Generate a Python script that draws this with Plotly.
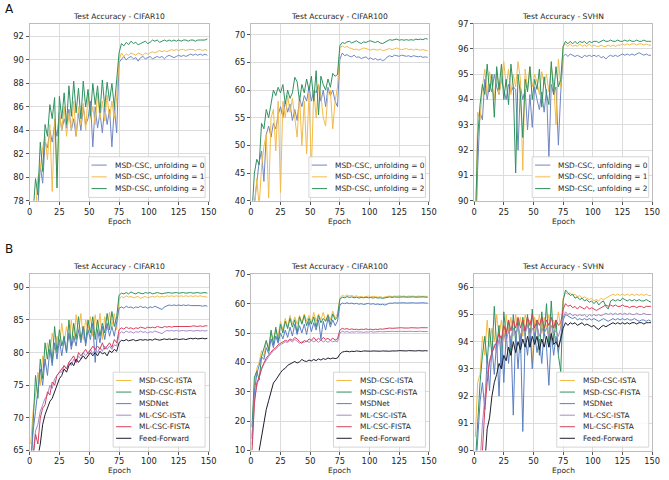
import plotly.graph_objects as go

W, H = 669, 480

# ---------------- data ----------------
epochs = list(range(1, 150, 2))

unfold_names = ["MSD-CSC, unfolding = 0", "MSD-CSC, unfolding = 1", "MSD-CSC, unfolding = 2"]
method_names = ["MSD-CSC-ISTA", "MSD-CSC-FISTA", "MSDNet", "ML-CSC-ISTA", "ML-CSC-FISTA", "Feed-Forward"]

# Panel A - CIFAR10
a_c10_u0 = [74, 75, 76, 77.5, 81, 79.5, 83, 82.5, 84, 83,
            84.5, 83.5, 85.5, 84, 85, 84.2, 85.8, 84, 85, 83.5,
            85.5, 84, 86, 84.5, 85, 86.5, 82.6, 86, 84.2, 85.5,
            83.8, 86, 84.5, 85.8, 82.6, 86, 83.8, 89.8, 90.1, 90.3,
            90.0, 90.2, 90.3, 90.1, 90.2, 89.9, 90.2, 90.3, 90.1, 90.2,
            90.3, 90.1, 90.2, 90.3, 90.2, 90.3, 90.1, 90.3, 90.4, 90.3,
            90.2, 90.3, 90.4, 90.3, 90.4, 90.3, 90.4, 90.5, 90.4, 90.5,
            90.4, 90.5, 90.4, 90.5, 90.4]
a_c10_u1 = [75, 76, 77, 80, 80.8, 82.5, 83.5, 81.5, 84.5, 78.8,
            85, 80, 85.5, 84, 86, 83.5, 85.5, 84, 86.5, 83.5,
            86, 84.5, 86.3, 84, 87, 85, 86, 84.5, 87.2, 85,
            86.5, 84.8, 87, 85, 86.5, 85, 86.8, 90, 90.6, 90.3,
            90.5, 90.4, 90.6, 90.5, 90.4, 90.6, 90.5, 90.4, 90.6, 90.5,
            90.6, 90.7, 90.6, 90.7, 90.8, 90.7, 90.8, 90.7, 90.8, 90.9,
            90.8, 90.9, 90.8, 90.9, 90.9, 90.8, 90.9, 90.9, 90.9, 90.8,
            90.9, 90.9, 90.8, 90.9, 90.8]
a_c10_u2 = [76, 77, 79.9, 78.5, 83, 80.5, 84.5, 83.5, 86.2, 85,
            86.8, 79.1, 86.9, 85, 87.2, 84.5, 87.8, 85.2, 88.2, 85.5,
            87.6, 85, 88.2, 86, 87.5, 85.2, 88, 86.2, 87.8, 85.5,
            88.3, 86, 88.1, 86.5, 88, 86, 88.3, 90.6, 91.4, 91.2,
            91.5, 91.3, 91.6, 91.4, 91.5, 91.3, 91.4, 91.5, 91.6, 91.4,
            91.5, 91.7, 91.6, 91.7, 91.5, 91.6, 91.7, 91.6, 91.7, 91.6,
            91.7, 91.6, 91.7, 91.6, 91.7, 91.7, 91.6, 91.7, 91.7, 91.6,
            91.7, 91.7, 91.7, 91.7, 91.8]

# Panel A - CIFAR100
a_c100_u0 = [36, 40, 44, 47, 49, 43.5, 52, 53.5, 51.5, 54,
             53, 55.5, 57, 55, 58, 56, 57.5, 54.5, 56.5, 54.5,
             58.5, 57, 59, 58, 60.5, 58, 60, 59.5, 61, 58,
             60, 57, 60.5, 59, 60, 58, 57, 65.5, 66.7, 66.2,
             66.4, 66.1, 66.0, 66.3, 65.9, 66.0, 65.7, 65.9, 66.0, 65.6,
             65.8, 65.5, 65.7, 65.4, 65.6, 65.3, 65.5, 66.0, 66.2, 66.0,
             66.3, 66.2, 66.1, 66.3, 66.2, 66.1, 66.2, 66.0, 66.2, 66.1,
             66.0, 66.1, 65.9, 66.0, 65.9]
a_c100_u1 = [36, 38, 44, 39, 46, 49.8, 52, 40.5, 55, 56.5,
             49, 58, 41.5, 58, 55, 59, 56, 58.5, 55, 51.5,
             59, 50, 58, 48.5, 59.5, 45.5, 60, 55, 61, 59,
             55, 53.5, 59.5, 60, 53, 58, 60.5, 67.5, 68, 67.7,
             67.9, 67.6, 67.5, 67.3, 67.4, 67.2, 67.4, 67.6, 67.5, 67.3,
             67.2, 67.4, 67.3, 67.2, 67.4, 67.1, 67.2, 67.4, 67.5, 67.3,
             67.4, 67.6, 67.4, 67.3, 67.4, 67.5, 67.3, 67.4, 67.2, 67.4,
             67.3, 67.2, 67.3, 67.2, 67.1]
a_c100_u2 = [38, 45, 47.5, 46.5, 54, 53, 56.5, 55, 57.5, 60,
             59, 60.5, 59.5, 61, 57.5, 60, 58.5, 59.5, 62.3, 61.5,
             58, 61, 59.5, 62, 60, 62.5, 58, 63.5, 55.5, 62.5,
             61, 60, 62, 60.5, 63, 62.5, 62.8, 68, 68.6, 68.4,
             68.7, 68.8, 68.5, 68.7, 68.9, 68.6, 68.4, 68.7, 68.6, 68.8,
             68.9, 68.7, 68.6, 68.8, 68.5, 68.4, 68.6, 68.9, 69.1, 69.0,
             69.1, 69.2, 69.0, 69.1, 69.0, 69.1, 69.0, 69.1, 69.0, 69.2,
             69.1, 69.2, 69.1, 69.3, 69.2]

# Panel A - SVHN
a_svhn_u0 = [88, 91.3, 93.5, 93.2, 94.8, 94, 94.6, 94.3, 95, 94.5,
             94.2, 94.8, 94.4, 94, 94.6, 94.3, 94.5, 94.4, 92, 94.5,
             94, 94.4, 92.8, 94.2, 92.9, 94.5, 94, 93.6, 94.3, 93.5,
             94.4, 91.7, 94.6, 94.2, 94.5, 92.2, 94.3, 95.7, 95.8, 95.7,
             95.8, 95.75, 95.7, 95.75, 95.7, 95.65, 95.75, 95.7, 95.75, 95.7,
             95.75, 95.7, 95.75, 95.65, 95.7, 95.6, 95.7, 95.75, 95.7, 95.75,
             95.7, 95.75, 95.8, 95.75, 95.8, 95.75, 95.8, 95.75, 95.8, 95.85,
             95.8, 95.75, 95.8, 95.75, 95.75]
a_svhn_u1 = [88, 93.5, 93.2, 94.5, 95.2, 94.2, 95.1, 94.5, 94, 95.2,
             94.2, 94.8, 95.5, 94.5, 95.2, 94.2, 95, 94.5, 95.5, 94.8,
             91.2, 95.2, 94.4, 95.3, 94.5, 95, 94.7, 94.2, 95.1, 94.6,
             95, 94.3, 95.3, 94.7, 93, 95.6, 94.5, 96.1, 96.2, 96.1,
             96.2, 96.1, 96.15, 96.1, 96.2, 96.1, 96.15, 96.1, 96.2, 96.1,
             96.15, 96.1, 96.1, 96.15, 96.1, 96.1, 96.15, 96.1, 96.15, 96.1,
             96.15, 96.15, 96.2, 96.15, 96.2, 96.15, 96.2, 96.2, 96.15, 96.2,
             96.2, 96.15, 96.2, 96.15, 96.15]
a_svhn_u2 = [89, 92.5, 93.8, 94.6, 94.2, 95.4, 94.3, 95, 93.3, 95.3,
             94.4, 95.4, 94, 94.8, 93.8, 95.4, 94.5, 91.1, 95, 94.2,
             92.5, 94.8, 94.3, 95.3, 94, 94.8, 94.4, 95.2, 93.7, 94.9,
             94.2, 93.8, 95.5, 94.2, 95.3, 94.5, 94.8, 96.1, 96.3, 96.2,
             96.3, 96.2, 96.3, 96.2, 96.3, 96.25, 96.3, 96.2, 96.3, 96.25,
             96.3, 96.3, 96.25, 96.3, 96.35, 96.3, 96.3, 96.35, 96.3, 96.3,
             96.35, 96.3, 96.3, 96.35, 96.3, 96.35, 96.3, 96.3, 96.35, 96.3,
             96.3, 96.35, 96.3, 96.3, 96.3]

# Panel B - CIFAR10
b_c10_ista = [66, 71, 73.5, 77, 75, 79.5, 78, 81.5, 80, 83,
              80.5, 82.5, 81, 84.5, 81.5, 84, 82, 85, 81.5, 85.8,
              83, 86, 82, 85, 83.5, 85.5, 82.5, 85.8, 83, 86,
              82, 85.5, 83.5, 86.2, 84, 86, 83.5, 88.2, 88.6, 88.4,
              88.7, 88.5, 88.6, 88.4, 88.5, 88.6, 88.3, 88.5, 88.6, 88.4,
              88.5, 88.6, 88.5, 88.7, 88.5, 88.6, 88.5, 88.7, 88.6, 88.7,
              88.6, 88.7, 88.6, 88.7, 88.6, 88.7, 88.6, 88.7, 88.6, 88.7,
              88.6, 88.7, 88.6, 88.6, 88.5]
b_c10_fista = [62, 70, 76.5, 73, 79, 76, 81.5, 79, 82, 78.5,
               84, 80, 83.5, 81, 82.5, 80, 85, 81, 84.5, 82,
               85.5, 82, 84, 81.5, 85, 83, 85.5, 82, 85, 82.5,
               84.5, 83, 86, 83.5, 86.3, 84, 85.5, 88.8, 89.1, 89.0,
               89.2, 89.0, 89.3, 89.1, 89.0, 89.2, 89.1, 89.0, 89.2, 89.1,
               89.2, 89.0, 89.1, 89.2, 89.1, 89.0, 89.1, 89.2, 89.2, 89.1,
               89.2, 89.2, 89.1, 89.2, 89.2, 89.1, 89.2, 89.2, 89.1, 89.2,
               89.2, 89.1, 89.2, 89.2, 89.1]
b_c10_msdnet = [63, 68, 71, 74, 77.5, 75, 79, 76.5, 80.5, 78,
                81.5, 79, 82, 79.5, 82, 80, 83, 80.5, 82.5, 81,
                83.5, 81.5, 84, 81, 83.5, 82, 84.5, 78.5, 83.5, 81.5,
                84, 82, 84.5, 82.5, 84, 82.5, 84.5, 86.8, 87.0, 86.8,
                87.1, 86.9, 87.0, 86.8, 87.0, 86.9, 87.1, 86.9, 87.0, 86.8,
                87.0, 86.9, 87.1, 86.9, 86.8, 86.6, 87.0, 87.2, 87.3, 87.2,
                87.3, 87.2, 87.3, 87.2, 87.3, 87.2, 87.3, 87.2, 87.2, 87.3,
                87.2, 87.2, 87.1, 87.2, 87.1]
b_c10_mlista = [61, 65, 68, 69, 71, 72, 73, 73.5, 75, 74.5,
                76, 76.5, 77, 77, 78, 77.5, 78.5, 78, 79, 78.5,
                79.5, 79, 80, 79.5, 80, 80.5, 79.8, 80.5, 80, 80.8,
                80.2, 81, 80.5, 81, 80.5, 81.2, 81, 82.8, 83.2, 83.0,
                83.3, 83.1, 83.2, 83.0, 83.2, 83.1, 83.3, 83.1, 83.2, 83.0,
                83.2, 83.1, 83.3, 83.2, 83.0, 82.9, 83.2, 83.4, 83.3, 83.4,
                83.3, 83.4, 83.3, 83.4, 83.4, 83.3, 83.4, 83.4, 83.3, 83.4,
                83.4, 83.3, 83.4, 83.3, 83.4]
b_c10_mlfista = [60, 64, 67.5, 66, 70, 71.5, 72, 74, 73.5, 75.5,
                 75, 76.5, 77, 77.5, 78, 77.5, 78.5, 79, 79.5, 78.5,
                 80, 79.5, 80, 80.5, 79.8, 80.5, 81, 80.5, 81, 80.5,
                 81.5, 80.5, 81, 81.5, 80.8, 82, 81.5, 83.5, 83.8, 83.6,
                 83.9, 83.7, 83.8, 83.6, 83.8, 83.7, 83.9, 83.8, 83.7, 83.9,
                 83.8, 83.9, 83.8, 84.0, 83.9, 83.8, 84.0, 83.9, 84.0, 83.9,
                 84.0, 84.0, 83.9, 84.0, 84.0, 83.9, 84.0, 84.0, 84.1, 84.0,
                 84.0, 84.1, 84.0, 84.1, 84.1]
b_c10_ff = [55, 60, 63, 64, 66, 69, 70.5, 71.5, 72.5, 73,
            74, 75, 76, 76.5, 77.5, 77, 78, 78.5, 78, 79,
            78.5, 79, 79.5, 79, 79.5, 80, 79.5, 80, 79.5, 80.2,
            79.8, 80, 79.5, 80.3, 80, 80.5, 80.2, 81.5, 81.9, 81.8,
            82.0, 81.8, 81.9, 82.0, 81.8, 81.9, 82.0, 81.9, 82.0, 81.9,
            82.0, 81.9, 82.1, 82.0, 81.9, 82.0, 82.1, 82.0, 82.1, 82.0,
            82.1, 82.1, 82.0, 82.1, 82.1, 82.0, 82.1, 82.2, 82.1, 82.2,
            82.1, 82.2, 82.2, 82.1, 82.2]

# Panel B - CIFAR100
b_c100_ista = [15, 32, 38, 40, 44, 42, 47, 45, 50, 48,
               51, 49, 54, 51, 55, 52, 56, 53, 55.5, 53,
               56, 53.5, 56.5, 54, 56, 53.5, 57, 54, 56.5, 54.5,
               57, 54, 56.5, 54.5, 57.5, 55, 56.5, 62, 62.8, 62.5,
               63, 62.6, 62.8, 62.4, 62.7, 62.3, 62.5, 62.2, 62.4, 62.6,
               62.3, 62.5, 62.4, 62.2, 62.4, 62.1, 62.3, 62.5, 62.6, 62.4,
               62.6, 62.5, 62.7, 62.5, 62.6, 62.4, 62.6, 62.5, 62.6, 62.4,
               62.6, 62.5, 62.6, 62.5, 62.5]
b_c100_fista = [18, 35, 37, 34, 42, 45, 47.5, 44, 51, 46,
                52, 47, 53, 50, 54, 51.5, 55, 52, 54.5, 50,
                55.5, 53, 56, 52.5, 55, 53, 55.5, 52, 56, 53.5,
                55, 54, 56, 53, 56.5, 54.5, 55.5, 61.5, 62.2, 62.0,
                62.4, 62.1, 62.3, 62.0, 62.2, 61.9, 62.1, 62.0, 62.2, 62.0,
                62.1, 61.9, 62.1, 61.9, 62.0, 61.8, 62.0, 62.2, 62.3, 62.1,
                62.3, 62.2, 62.3, 62.2, 62.3, 62.2, 62.3, 62.2, 62.3, 62.2,
                62.3, 62.2, 62.3, 62.2, 62.2]
b_c100_msdnet = [14, 30, 36, 39, 42, 41, 45, 43, 48, 45,
                 49, 46.5, 50, 48, 51, 48.5, 52, 49, 53, 49.5,
                 52.5, 50, 53, 49.5, 54, 50.5, 53.5, 51, 54.5, 48,
                 54, 51, 55, 52, 54.5, 52.5, 54, 59.5, 60.2, 60.0,
                 60.3, 60.0, 60.2, 59.9, 60.1, 59.8, 60.0, 59.7, 59.9, 60.1,
                 59.8, 60.0, 59.7, 59.9, 59.6, 59.8, 59.5, 60.0, 60.2, 60.1,
                 60.3, 60.2, 60.3, 60.2, 60.3, 60.2, 60.3, 60.2, 60.3, 60.2,
                 60.3, 60.2, 60.3, 60.2, 60.2]
b_c100_mlista = [12, 27, 32, 35, 37.5, 39.5, 41, 42, 43, 44,
                 44.5, 45.5, 46, 46.5, 47, 46.8, 47.5, 47, 47.8, 47.2,
                 46.5, 47, 46.8, 47.3, 46.8, 47.5, 47, 47.5, 46.8, 47.6,
                 47, 47.4, 46.8, 47.5, 47, 47.3, 47, 50, 50.6, 50.3,
                 50.5, 50.2, 50.4, 50.3, 50.5, 50.3, 50.4, 50.2, 50.4, 50.3,
                 50.5, 50.3, 50.4, 50.3, 50.5, 50.4, 50.5, 50.6, 50.5, 50.6,
                 50.5, 50.6, 50.5, 50.6, 50.5, 50.6, 50.5, 50.6, 50.5, 50.6,
                 50.5, 50.6, 50.5, 50.6, 50.5]
b_c100_mlfista = [10, 26, 33, 35, 38, 40, 41.5, 42.5, 43.5, 44.5,
                  45, 46, 46.5, 47, 47.5, 47.2, 48, 47.5, 48.5, 48,
                  47, 46.5, 47.5, 47, 48, 47.5, 48.5, 47.5, 48.2, 47.5,
                  48.5, 47.8, 48.2, 47.5, 48.3, 47.6, 48, 51, 51.6, 51.3,
                  51.5, 51.2, 51.4, 51.2, 51.3, 51.1, 51.3, 51.2, 51.4, 51.2,
                  51.3, 51.1, 51.3, 51.2, 51.4, 51.3, 51.5, 51.6, 51.7, 51.6,
                  51.7, 51.6, 51.7, 51.8, 51.7, 51.6, 51.7, 51.8, 51.7, 51.6,
                  51.7, 51.8, 51.7, 51.8, 51.8]
b_c100_ff = [2, 5, 7, 10, 15, 20, 24, 27, 30.5, 33,
             34, 35.5, 36.5, 37.5, 38, 39, 39.5, 40, 40.3, 39.8,
             40.2, 41, 40.5, 40.3, 40.8, 40.5, 41, 40.6, 41.2, 40.8,
             41.3, 41, 41.5, 41.2, 41.5, 41.3, 41.5, 42.8, 43.5, 43.7,
             43.8, 43.6, 43.8, 43.7, 43.9, 43.8, 43.7, 43.9, 43.8, 43.7,
             43.8, 43.9, 43.8, 43.7, 43.8, 43.9, 43.8, 43.9, 43.8, 43.9,
             43.8, 43.9, 44.0, 43.9, 43.8, 43.9, 44.0, 43.9, 43.8, 43.9,
             44.0, 43.9, 43.9, 44.0, 43.9]

# Panel B - SVHN
b_svhn_ista = [90.5, 92.5, 92.8, 94.2, 93.5, 94.8, 93.8, 94.5, 94, 95,
               94.2, 94.8, 94, 95, 94.3, 94.9, 94.2, 95, 94.5, 94.9,
               94.2, 95, 94.6, 94.8, 93.2, 94.9, 94.5, 95, 94.3, 94.9,
               94.5, 95, 94.2, 94.8, 94.5, 95.1, 94.5, 95.6, 95.8, 95.75,
               95.8, 95.7, 95.75, 95.65, 95.7, 95.6, 95.65, 95.6, 95.55, 95.6,
               95.5, 95.55, 95.5, 95.6, 95.55, 95.6, 95.65, 95.7, 95.75, 95.7,
               95.75, 95.7, 95.75, 95.7, 95.75, 95.7, 95.75, 95.7, 95.75, 95.7,
               95.75, 95.7, 95.75, 95.7, 95.7]
b_svhn_fista = [89.5, 91, 92.5, 93.5, 94.2, 93.2, 94.5, 93.5, 95.3, 93.8,
                94.6, 93, 95.1, 94.2, 94.8, 93.5, 95, 94, 94.8, 93.6,
                94.9, 94.2, 95, 93.8, 95.2, 94, 94.8, 93.5, 95.1, 94.2,
                95.4, 93.8, 95.5, 94, 94.8, 93.5, 92.9, 95.5, 95.9, 95.8,
                95.7, 95.75, 95.6, 95.65, 95.55, 95.6, 95.5, 95.55, 95.45, 95.5,
                95.4, 95.5, 95.35, 95.45, 95.5, 95.3, 95.2, 95.5, 95.55, 95.5,
                95.55, 95.5, 95.6, 95.55, 95.5, 95.55, 95.5, 95.55, 95.5, 95.55,
                95.5, 95.5, 95.55, 95.5, 95.45]
b_svhn_msdnet = [89, 90.5, 91.8, 92.5, 91.5, 93.5, 92.2, 93.8, 92.8, 94,
                 92, 94.2, 92.5, 94.3, 93.2, 94.2, 91.3, 94.4, 93, 94.3,
                 90.7, 94.2, 93.5, 94.5, 93, 94.3, 93.6, 94.1, 93.2, 94.4,
                 93.8, 92.4, 94.3, 93.5, 94.2, 93.6, 94.3, 94.8, 95.0, 94.95,
                 94.9, 94.85, 94.9, 94.8, 94.85, 94.8, 94.85, 94.8, 94.85, 94.8,
                 94.85, 94.8, 94.75, 94.8, 94.85, 94.8, 94.75, 94.8, 94.85, 94.8,
                 94.85, 94.8, 94.85, 94.8, 94.85, 94.8, 94.8, 94.85, 94.8, 94.75,
                 94.8, 94.8, 94.75, 94.8, 94.75]
b_svhn_mlista = [87, 88.5, 89.5, 91, 92, 92.8, 93.2, 93.5, 93.9, 93.6,
                 94.1, 93.8, 94.3, 94, 94.4, 94.1, 94.5, 94.2, 94.6, 94.2,
                 94.5, 94.3, 94.6, 94.2, 94.5, 94.3, 94.6, 94.2, 94.5, 94.3,
                 94.5, 94.2, 94.6, 94.3, 94.4, 94.2, 94.5, 94.9, 95.1, 95.0,
                 95.05, 94.95, 95.0, 94.95, 95.0, 94.95, 95.0, 94.9, 95.0, 94.95,
                 95.0, 94.95, 95.0, 94.95, 95.0, 95.05, 95.0, 95.05, 95.0, 95.05,
                 95.0, 95.05, 95.0, 95.05, 95.0, 95.05, 95.0, 95.0, 95.05, 95.0,
                 95.0, 95.05, 95.0, 95.0, 95.0]
b_svhn_mlfista = [86, 87, 88.5, 90, 91.5, 92.5, 93.3, 93.6, 93.8, 94,
                  94.3, 94.1, 94.6, 94.3, 94.8, 94.4, 94.8, 94.5, 94.9, 94.5,
                  94.8, 94.4, 94.9, 94.6, 95, 94.5, 94.8, 94.6, 94.9, 94.5,
                  94.8, 94.6, 94.9, 94.5, 94.8, 94.6, 94.7, 95.2, 95.4, 95.3,
                  95.35, 95.25, 95.3, 95.2, 95.3, 95.25, 95.2, 95.3, 95.2, 95.25,
                  95.2, 95.15, 95.2, 95.25, 95.3, 95.35, 95.3, 95.35, 95.3, 95.35,
                  95.3, 95.3, 95.35, 95.3, 95.3, 95.25, 95.3, 95.3, 95.25, 95.3,
                  95.3, 95.25, 95.3, 95.3, 95.3]
b_svhn_ff = [85, 86, 87, 88, 89.5, 90.8, 91.2, 92, 92.5, 92.8,
             93.2, 93, 93.5, 93.3, 93.8, 93.5, 94, 93.6, 94, 93.7,
             94.1, 93.8, 94.2, 93.8, 94.2, 93.9, 94.2, 93.7, 94.1, 93.8,
             94.2, 93.8, 94.3, 93.9, 94, 93.8, 94.1, 94.5, 94.7, 94.6,
             94.7, 94.65, 94.7, 94.6, 94.65, 94.7, 94.6, 94.65, 94.6, 94.55,
             94.6, 94.5, 94.45, 94.55, 94.6, 94.55, 94.6, 94.65, 94.7, 94.65,
             94.7, 94.65, 94.7, 94.65, 94.7, 94.65, 94.7, 94.7, 94.65, 94.7,
             94.7, 94.65, 94.7, 94.7, 94.7]

titles = ["Test Accuracy - CIFAR10", "Test Accuracy - CIFAR100", "Test Accuracy - SVHN"] * 2
y_ranges = [[78, 93.1], [40, 72], [90, 97], [65, 92], [10, 70], [90, 96.48]]
y_dticks = [2, 5, 1, 5, 10, 1]
x_ticks = [0, 25, 50, 75, 100, 125, 150]

unfold_colors = ["#6f86c4", "#f2bb4a", "#2f9160"]
method_colors = ["#f2bb4a", "#2f9160", "#5b7fc0", "#a78ac9", "#d6405a", "#1c1f2e"]

panels = [
    [a_c10_u0, a_c10_u1, a_c10_u2],
    [a_c100_u0, a_c100_u1, a_c100_u2],
    [a_svhn_u0, a_svhn_u1, a_svhn_u2],
    [b_c10_ista, b_c10_fista, b_c10_msdnet, b_c10_mlista, b_c10_mlfista, b_c10_ff],
    [b_c100_ista, b_c100_fista, b_c100_msdnet, b_c100_mlista, b_c100_mlfista, b_c100_ff],
    [b_svhn_ista, b_svhn_fista, b_svhn_msdnet, b_svhn_mlista, b_svhn_mlfista, b_svhn_ff],
]

# ---------------- layout helpers ----------------
FONT = "DejaVu Sans, Liberation Sans, sans-serif"
TXT = "#262626"


def fx(p):
    return p / W


def fy(p):
    return 1 - p / H


cols = [(27, 209), (252, 433), (479, 660)]
rows = [(19, 200), (275, 455)]
epoch_label_y = [221.5, 475]

fig = go.Figure()
layout = dict(
    width=W, height=H, margin=dict(l=0, r=0, t=0, b=0),
    paper_bgcolor="white", plot_bgcolor="white", showlegend=False,
    font=dict(family=FONT, size=8, color=TXT),
)
annotations = []
shapes = []

for i in range(6):
    r, c = divmod(i, 3)
    (x0, x1), (y0, y1) = cols[c], rows[r]
    sfx = "" if i == 0 else str(i + 1)
    axis_common = dict(
        showgrid=True, gridcolor="#dcdcdc", gridwidth=1,
        showline=True, linecolor="#bdbdbd", linewidth=1, mirror=True,
        ticks="outside", ticklen=3, tickwidth=0.8, tickcolor="#555555",
        tickfont=dict(family=FONT, size=8.3, color=TXT), zeroline=False,
    )
    layout["xaxis" + sfx] = dict(
        domain=[fx(x0), fx(x1)], anchor="y" + sfx, range=[0, 150],
        tickvals=x_ticks, **axis_common)
    layout["yaxis" + sfx] = dict(
        domain=[fy(y1), fy(y0)], anchor="x" + sfx, range=y_ranges[i],
        dtick=y_dticks[i], tick0=0, **axis_common)

    series = panels[i]
    names = unfold_names if r == 0 else method_names
    colors = unfold_colors if r == 0 else method_colors
    for vals, name, col in zip(series, names, colors):
        fig.add_trace(go.Scatter(
            x=epochs, y=vals, mode="lines", name=name,
            line=dict(color=col, width=1),
            xaxis="x" + sfx, yaxis="y" + sfx))

    # title and x label
    xc = (x0 + x1) / 2
    annotations.append(dict(text=titles[i], x=fx(xc), y=fy(y0 - 7.5), xref="paper", yref="paper",
                            xanchor="center", yanchor="middle", showarrow=False,
                            font=dict(family=FONT, size=7.6, color=TXT)))
    annotations.append(dict(text="Epoch", x=fx(xc), y=fy(epoch_label_y[r]), xref="paper", yref="paper",
                            xanchor="center", yanchor="middle", showarrow=False,
                            font=dict(family=FONT, size=7.5, color=TXT)))

    # legend drawn in the axes lower-right corner
    n = len(names)
    lw = 118.5 if r == 0 else 93.5
    right = x1 - 3.5
    bottom = y1 - 3.5
    step = 12 if r == 0 else 11.8
    top = bottom - (n - 1) * step - 17.5
    left = right - lw
    shapes.append(dict(type="rect", xref="paper", yref="paper",
                       x0=fx(left), x1=fx(right), y0=fy(bottom), y1=fy(top),
                       line=dict(color="#cccccc", width=0.8),
                       fillcolor="rgba(255,255,255,0.85)", layer="above"))
    for k, (name, col) in enumerate(zip(names, colors)):
        ey = top + 8.5 + k * step
        shapes.append(dict(type="line", xref="paper", yref="paper",
                           x0=fx(left + 3), x1=fx(left + 18.5), y0=fy(ey), y1=fy(ey),
                           line=dict(color=col, width=1), layer="above"))
        annotations.append(dict(text=name, x=fx(left + 24.5), y=fy(ey), xref="paper", yref="paper",
                                xanchor="left", yanchor="middle", showarrow=False,
                                font=dict(family=FONT, size=7.4, color=TXT)))

annotations.append(dict(text="A", x=0, y=fy(4.5), xref="paper", yref="paper",
                        xanchor="left", yanchor="middle", showarrow=False,
                        font=dict(family=FONT, size=12, color="#111111")))
annotations.append(dict(text="B", x=0, y=fy(249), xref="paper", yref="paper",
                        xanchor="left", yanchor="middle", showarrow=False,
                        font=dict(family=FONT, size=12, color="#111111")))

layout["annotations"] = annotations
layout["shapes"] = shapes
fig.update_layout(**layout)
fig.write_html("out.html", config={"displayModeBar": False},
               post_script="document.body.style.margin='0';document.body.style.overflow='hidden';")
